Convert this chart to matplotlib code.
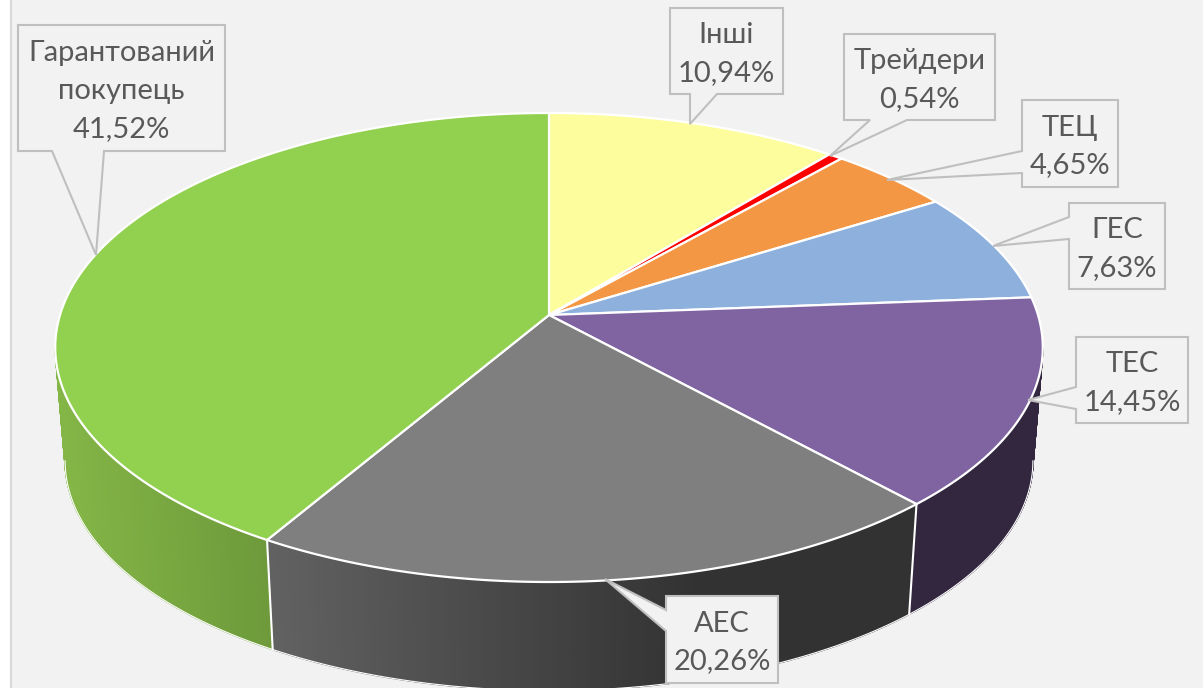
import numpy as np
import matplotlib
matplotlib.use("Agg")
import matplotlib.pyplot as plt
from matplotlib.colors import to_rgb

plt.rcParams['font.family'] = ['Lato', 'Open Sans', 'DejaVu Sans']

names = ["Інші", "Трейдери", "ТЕЦ", "ГЕС", "ТЕС", "АЕС", "Гарантований\nпокупець"]
values = [10.94, 0.54, 4.65, 7.63, 14.45, 20.26, 41.52]
colors = ["#fdfd9d", "#ff0000", "#f49745", "#8db0dd", "#8064a2", "#7f7f7f", "#92d050"]
# wall colour at left and right end of each slice (only the front ones show)
wall_left = {4: "#33273f", 5: "#626262", 6: "#84b647"}
wall_right = {4: "#33273f", 5: "#323232", 6: "#6e9a3b"}

# label box: left, right, top, bottom, pointer side, pointer base a, b, tip x, y
boxes = [
    (670, 783, 8, 94, "bottom", 690, 717, 690, 124),
    (844, 995, 34, 120, "bottom", 870, 907, 830, 156),
    (1022, 1118, 100, 187, "left", 151, 173, 887, 180),
    (1069, 1165, 203, 289, "left", 217, 239, 993, 246),
    (1076, 1188, 337, 423, "left", 387, 409, 1028, 400),
    (666, 778, 596, 683, "left", 610, 631, 605, 579),
    (18, 225, 25, 151, "bottom", 52, 104, 96, 255),
]

BG = "#f2f2f2"

# pie geometry in pixels, perspective disc seen from above
CX, CY = 549, 315
RX, RY, K = 489, 230, 0.1386
WALL_CY, WALL_SCALE = 429, 0.98
# the rim is at its widest here, the wall is out of sight beyond these angles
T_SIDE = np.arccos(-K)


def top_rim(t):
    u, v = np.sin(t), np.cos(t)
    d = 1 + K * v
    return CX + RX * u / d, CY - RY * v / d


def bottom_rim(t):
    x, y = top_rim(t)
    return CX + (x - CX) * WALL_SCALE, WALL_CY + (y - CY) * WALL_SCALE


def outline(b):
    l, r, t, bt, side, a, c, tx, ty = b
    if side == "bottom":
        return [l, a, tx, c, r, r, l], [bt, bt, ty, bt, bt, t, t]
    return [l, tx, l, l, r, r, l], [c, ty, a, t, t, bt, bt]


fig = plt.figure(figsize=(12.03, 6.88), dpi=100, facecolor="white")
ax = fig.add_axes([0, 0, 1, 1])
ax.set_xlim(0, 1203)
ax.set_ylim(688, 0)
ax.axis("off")

ax.fill([11, 1203, 1203, 11], [0, 0, 688, 688], color=BG, lw=0)
ax.plot([11, 11], [0, 688], color="#d9d9d9", lw=1.6)

edges = np.cumsum([0] + values) / sum(values) * 2 * np.pi

# walls first, the top disc hides the upper edge of them
for i in range(len(values)):
    if i not in wall_left:
        continue
    start = max(edges[i], T_SIDE)
    stop = min(edges[i + 1], 2 * np.pi - T_SIDE)
    ts = np.linspace(start, stop, 120)
    xt, yt = top_rim(ts)
    xb, yb = bottom_rim(ts)
    x0, x1 = xb.min(), xb.max()
    c_l, c_r = np.array(to_rgb(wall_left[i])), np.array(to_rgb(wall_right[i]))
    for j in range(len(ts) - 1):
        f = (xb[j] - x0) / (x1 - x0)
        if i == 5:
            f = min(f * 1.5, 1)
        c = c_l + (c_r - c_l) * f
        ax.fill([xt[j], xt[j + 1], xb[j + 1], xb[j]],
                [yt[j], yt[j + 1], yb[j + 1], yb[j]],
                fc=c, ec=c, lw=1.0, zorder=2)
    ax.plot(xb, yb, color="white", lw=0.8, zorder=3)

# white seams between the visible wall slices
for i in [5, 6]:
    xa, ya = top_rim(edges[i])
    xc, yc = bottom_rim(edges[i])
    ax.plot([xa, xc], [ya, yc], color="white", lw=1.5, zorder=3)

for i, c in enumerate(colors):
    ts = np.linspace(edges[i], edges[i + 1], 200)
    x, y = top_rim(ts)
    ax.fill(np.r_[CX, x], np.r_[CY, y], fc=c, ec="white", lw=1.6, joinstyle="round", zorder=4)

for name, val, b in zip(names, values, boxes):
    x, y = outline(b)
    ax.fill(x, y, fc=BG, ec="#bfbfbf", lw=1.5, zorder=5)
    txt = name + "\n" + f"{val:.2f}".replace(".", ",") + "%"
    ax.text((b[0] + b[1]) / 2, (b[2] + b[3]) / 2 + 3, txt, ha="center", va="center",
            color="#595959", fontsize=21, linespacing=1.55, zorder=6)

fig.savefig("out.png", dpi=100)
